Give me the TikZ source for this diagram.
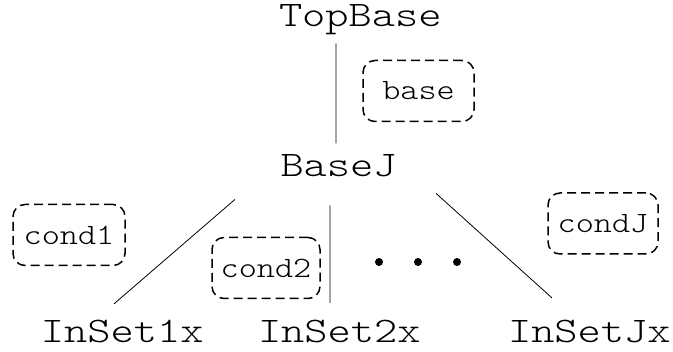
\documentclass[tikz,border=0pt]{standalone}
\usepackage{fontspec}
\newfontfamily\grande[FakeStretch=1.23]{lmmonolt10-regular.otf}
\newfontfamily\pequeno[FakeStretch=1.17]{lmmonolt10-regular.otf}
\usepackage{tikz}
\usetikzlibrary{positioning}

\tikzset{
  nome/.style={font=\grande\fontsize{36}{36}\selectfont, inner sep=0pt, outer sep=0pt, anchor=base west},
  cond/.style={draw, dash pattern=on 9pt off 5pt, rounded corners=12pt, line width=1.5pt,
    font=\pequeno\fontsize{29.5}{29.5}\selectfont, inner sep=0pt, minimum height=61pt},
  ramo/.style={line width=0.8pt}
}

\begin{document}
\begin{tikzpicture}[x=1pt, y=-1pt]
  \useasboundingbox (0,0) rectangle (673,352);

  % Nós
  \node[nome] (top) at (279,27) {TopBase};
  \node[nome] (basej) at (280.5,177) {BaseJ};
  \node[nome] (inset1) at (41,343) {InSet1x};
  \node[nome] (inset2) at (258,343) {InSet2x};
  \node[nome] (insetj) at (508,343) {InSetJx};

  % Condições
  \node[cond, minimum width=111pt] (cbase) at (418.5,91) {base};
  \node[cond, minimum width=112pt] (cond1) at (69,235) {cond1};
  \node[cond, minimum width=108pt] (cond2) at (266,268) {cond2\hspace{7pt}};
  \node[cond, minimum width=110pt] (condj) at (603,223.5) {condJ\hspace{18pt}};

  % Ramos
  \draw[ramo] ([shift={(-24.4,8.2)}]top.south) -- ([shift={(-2.6,-11.7)}]basej.north);
  \draw[ramo] ([shift={(-45.5,22)}]basej.south west) -- ([shift={(-8.4,-16.7)}]inset1.north);
  \draw[ramo] ([shift={(-8.6,28)}]basej.south) -- ([shift={(-9.4,-17.7)}]inset2.north);
  \draw[ramo] ([shift={(39.3,16)}]basej.south east) -- ([shift={(-37.4,-22.7)}]insetj.north);

  % Reticências
  \foreach \x in {379,418,457}
    \fill (\x,262) circle (4pt);
\end{tikzpicture}
\end{document}
